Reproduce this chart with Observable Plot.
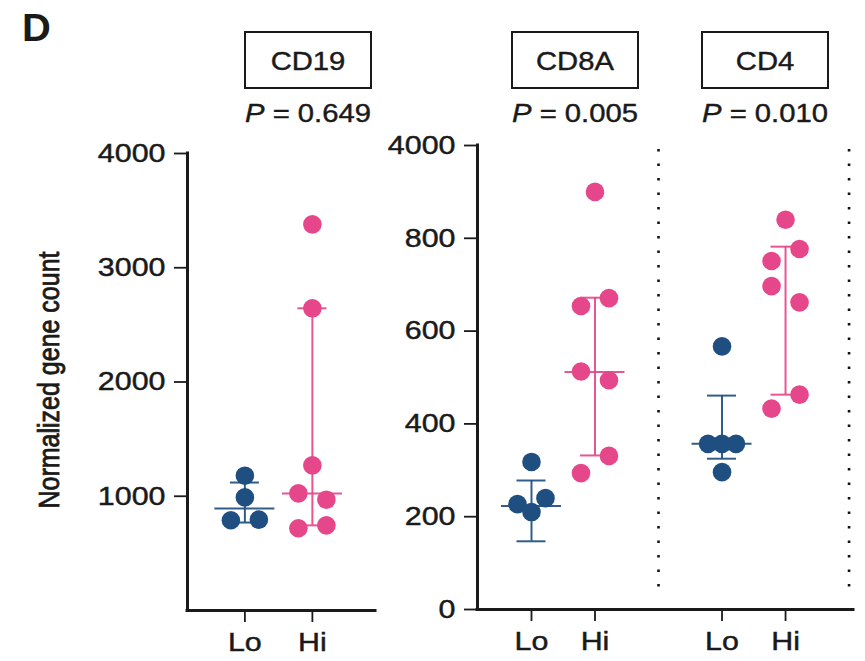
<!DOCTYPE html>
<html>
<head>
<meta charset="utf-8">
<script src="https://cdn.jsdelivr.net/npm/d3@7"></script>
<script src="https://cdn.jsdelivr.net/npm/@observablehq/plot@0.6"></script>
<style>
  body { margin: 0; background: #fff; }
  #chart { position: relative; width: 865px; height: 661px; overflow: hidden; background: #fff; }
  #chart svg { position: absolute; left: 0; top: 0; }
</style>
</head>
<body>
<div id="chart"></div>
<script>
// ---- data -------------------------------------------------------------
const genes = ["CD19", "CD8A", "CD4"];
const groups = ["Lo", "Hi"];
const pValues = [0.649, 0.005, 0.010];

// normalized gene counts per sample
const cd19Lo = [1180, 990, 790, 795];
const cd19Hi = [3380, 2645, 1270, 1025, 970, 745, 720];
const cd8aLo = [318, 240, 227, 210];
const cd8aHi = [900, 671, 654, 513, 494, 331, 294];
const cd4Lo = [567, 357, 357, 357, 296];
const cd4Hi = [840, 777, 751, 697, 662, 463, 433];

// median with interquartile range, [Lo, Hi] per gene
const medians = [[893, 1025], [223, 512], [357, null]];
const lowerQuartiles = [[770, 745], [147, 332], [325, 463]];
const upperQuartiles = [[1120, 2645], [278, 672], [461, 782]];

// y-axis ticks
const leftTicks = [1000, 2000, 3000, 4000];
const rightTicks = [0, 200, 400, 600, 800, 1000];
const rightTickLabels = ["0", "200", "400", "600", "800", "4000"];

const panelLetter = "D";
const yTitle = "Normalized gene count";

// ---- layout & style ---------------------------------------------------
const W = 865, H = 661;
const FONT = "'Liberation Sans', Arial, Helvetica, sans-serif";
const BLUE = "#1f4f80", PINK = "#e6468a", INK = "#1a1a1a";
const STRETCH = 1.17;          // wide lettering
const SLOT_PX = 14;            // horizontal step between side-by-side dots
const ROW_PX = 19;             // dots closer than this (vertically) share a row
const DOT_R = 9.3, CAP_PX = 14.5, MEDIAN_PX = 30;

const series = [[cd19Lo, cd19Hi], [cd8aLo, cd8aHi], [cd4Lo, cd4Hi]];

const panels = [
  {genes: [0], yMax: 4000, ticks: leftTicks, tickLabels: leftTicks.map(String),
   xMax: 2.785, margin: {top: 153, right: 490, bottom: 51, left: 187}, separators: false},
  {genes: [1, 2], yMax: 1000, ticks: rightTicks, tickLabels: rightTickLabels,
   xMax: 5.92, margin: {top: 145, right: 12, bottom: 52, left: 477}, separators: true}
];
const titleX = [308, 575, 765];

// Scatter layout: dots that would overlap are grouped in rows and
// spread left/right, alternating the side from one row to the next.
let rowCount = 0;
function slots(values, pxPerUnit) {
  const order = d3.range(values.length).sort((a, b) => values[b] - values[a]);
  const rows = [];
  for (const i of order) {
    const row = rows[rows.length - 1];
    if (row && (values[row[row.length - 1]] - values[i]) * pxPerUnit < ROW_PX) row.push(i);
    else rows.push([i]);
  }
  const slot = values.map(() => 0);
  for (const row of rows) {
    if (row.length < 2) continue;
    const s = rowCount++ % 2 === 0 ? 1 : -1;
    const pattern = row.length === 2 ? [s, -s] : [-s, s, 0, -2 * s, 2 * s];
    row.forEach((i, k) => (slot[i] = pattern[k] ?? 0));
  }
  return slot;
}

// widen text horizontally around its anchor point, with a slightly heavier stroke
function stretchText(root, k) {
  root.querySelectorAll("text").forEach((t) => {
    const tr = t.getAttribute("transform");
    if (tr) t.setAttribute("transform", `${tr} scale(${k},1)`);
    else {
      const x = +t.getAttribute("x") || 0, y = +t.getAttribute("y") || 0;
      t.setAttribute("transform", `translate(${x},${y}) scale(${k},1) translate(${-x},${-y})`);
    }
    t.style.stroke = INK;
    t.style.strokeWidth = "0.45px";
  });
}

const chart = document.getElementById("chart");

for (const panel of panels) {
  const {top, right, bottom, left} = panel.margin;
  const pxX = (W - left - right) / panel.xMax;
  const pxY = (H - top - bottom) / panel.yMax;
  const points = [], summary = [], xTicks = [], xTickLabels = [];

  panel.genes.forEach((gene, s) => {
    groups.forEach((group, g) => {
      const cx = 3 * s + 0.85 + g;
      xTicks.push(cx);
      xTickLabels.push(group);
      const values = series[gene][g];
      const slot = slots(values, pxY);
      values.forEach((value, i) =>
        points.push({gene: genes[gene], group, value, x: cx + (slot[i] * SLOT_PX) / pxX}));
      summary.push({gene: genes[gene], group, x: cx,
        median: medians[gene][g], q1: lowerQuartiles[gene][g], q3: upperQuartiles[gene][g]});
    });
  });

  const separators = panel.separators ? panel.genes.map((_, s) => 3 * s + 2.85) : [];
  const cap = CAP_PX / pxX, med = MEDIAN_PX / pxX;
  const xLabel = new Map(xTicks.map((t, i) => [t.toFixed(3), xTickLabels[i]]));
  const yLabel = new Map(panel.ticks.map((t, i) => [t, panel.tickLabels[i]]));
  const bar = {stroke: "group", strokeWidth: 2, strokeOpacity: 0.92};

  const svg = Plot.plot({
    width: W, height: H,
    marginTop: top, marginRight: right, marginBottom: bottom, marginLeft: left,
    style: {background: "transparent", fontFamily: FONT, fontSize: "26px", color: INK, overflow: "visible"},
    x: {domain: [0, panel.xMax]},
    y: {domain: [0, panel.yMax]},
    color: {domain: groups, range: [BLUE, PINK]},
    marks: [
      Plot.ruleX(separators, {stroke: "#111", strokeWidth: 2.6, strokeDasharray: "2.6,11.9", insetTop: 4, insetBottom: 14}),
      Plot.ruleX(summary, {x: "x", y1: "q1", y2: "q3", ...bar}),
      Plot.ruleY(summary, {y: "q1", x1: (d) => d.x - cap, x2: (d) => d.x + cap, ...bar}),
      Plot.ruleY(summary, {y: "q3", x1: (d) => d.x - cap, x2: (d) => d.x + cap, ...bar}),
      Plot.ruleY(summary.filter((d) => d.median != null),
        {y: "median", x1: (d) => d.x - med, x2: (d) => d.x + med, ...bar}),
      Plot.dot(points, {x: "x", y: "value", r: DOT_R, fill: "group"}),
      Plot.axisY({ticks: panel.ticks, tickFormat: (d) => yLabel.get(d), tickSize: 13, tickPadding: 9,
        strokeWidth: 1.8, label: null}),
      Plot.axisX({ticks: xTicks, tickFormat: (d) => xLabel.get(d.toFixed(3)), tickSize: 12, tickPadding: 10,
        strokeWidth: 1.8, label: null}),
      Plot.ruleX([0], {stroke: INK, strokeWidth: 3, strokeLinecap: "square"}),
      Plot.ruleY([0], {stroke: INK, strokeWidth: 3, strokeLinecap: "square"})
    ]
  });
  chart.appendChild(svg);
  stretchText(svg, STRETCH);
}

// ---- titles, p-values and axis title ----------------------------------
const overlay = d3.select(chart).append("svg")
  .attr("width", W).attr("height", H)
  .style("font-family", FONT).style("fill", INK);

overlay.append("text")
  .attr("transform", `translate(22,41) scale(1.05,1)`)
  .style("font-size", "38px").style("font-weight", "bold")
  .text(panelLetter);

genes.forEach((gene, i) => {
  const cx = titleX[i];
  overlay.append("rect")
    .attr("x", cx - 63).attr("y", 32).attr("width", 126).attr("height", 56)
    .attr("fill", "none").attr("stroke", INK).attr("stroke-width", 2);
  overlay.append("text")
    .attr("transform", `translate(${cx},70) scale(${STRETCH},1)`)
    .attr("text-anchor", "middle").style("font-size", "25px")
    .style("stroke", INK).style("stroke-width", "0.4px")
    .text(gene);
  const p = overlay.append("text")
    .attr("transform", `translate(${cx},122) scale(${STRETCH},1)`)
    .attr("text-anchor", "middle").style("font-size", "25px")
    .style("stroke", INK).style("stroke-width", "0.4px");
  p.append("tspan").style("font-style", "italic").text("P");
  p.append("tspan").text(" = " + d3.format(".3f")(pValues[i]));
});

overlay.append("text")
  .attr("transform", "translate(59,380) scale(1.2,1) rotate(-90)")
  .attr("text-anchor", "middle").style("font-size", "25px")
  .style("stroke", INK).style("stroke-width", "0.7px")
  .text(yTitle);
</script>
</body>
</html>
